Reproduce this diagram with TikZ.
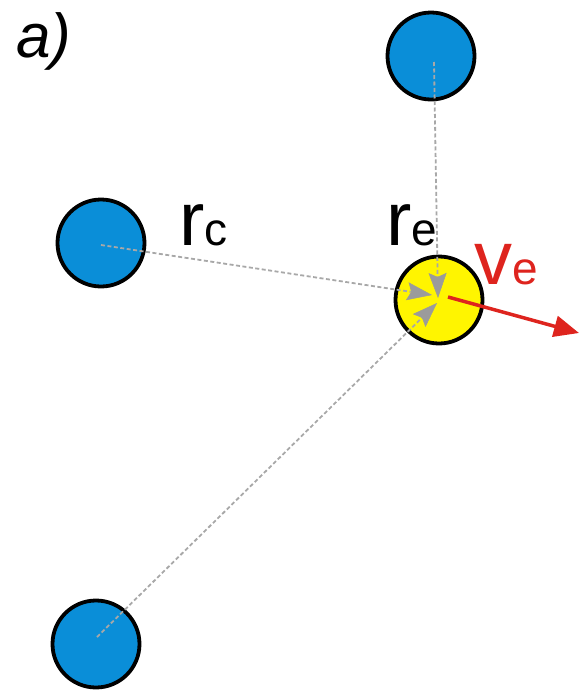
\documentclass[tikz,border=0pt]{standalone}
\usepackage{fontspec}
\setmainfont{Liberation Sans}
\usetikzlibrary{arrows.meta}
\definecolor{ballblue}{RGB}{10,142,216}
\definecolor{ballyellow}{RGB}{255,245,0}
\definecolor{dashgray}{RGB}{168,168,168}
\definecolor{headgray}{RGB}{155,155,155}
\definecolor{velred}{RGB}{222,36,30}
\tikzset{
  ball/.style={circle,draw=black,line width=3.8pt,minimum size=87pt,inner sep=0pt},
  blueball/.style={ball,fill=ballblue},
  yellowball/.style={ball,fill=ballyellow},
  force/.style={draw=dashgray,line width=1.8pt,dash pattern=on 4pt off 2.5pt,
    -{Stealth[length=25pt,width=18pt,inset=4pt,color=headgray,fill=headgray,line width=0.5pt]}},
  vel/.style={draw=velred,line width=3.5pt,-{Triangle[length=25pt,width=21pt]}},
  lbl/.style={inner sep=0pt,anchor=base west},
}
\newcommand{\bigtxt}{\fontsize{76}{76}\selectfont}
\newcommand{\subtxt}{\fontsize{46}{46}\selectfont}
\begin{document}
\begin{tikzpicture}[x=1pt,y=-1pt]
\useasboundingbox (0,0) rectangle (581,691);
\node[blueball] (T) at (431,56) {};
\node[blueball] (L) at (101,243) {};
\node[blueball] (B) at (96,644) {};
\node[yellowball] (E) at (439,300) {};
\coordinate (ts) at (434,62);
\coordinate (ls) at (101,245);
\coordinate (bs) at (97,637);
\coordinate (tt) at (438,298);
\coordinate (lt) at (432,295);
\coordinate (bt) at (437,303);
\coordinate (vs) at (448,297);
\coordinate (vt) at (579,333);
\draw[force] (ts) -- (tt);
\draw[force] (ls) -- (lt);
\draw[force] (bs) -- (bt);
\draw[vel] (vs) -- (vt);
\node[lbl] (a) at (16,57) {\fontsize{62}{62}\selectfont\itshape a)};
\node[lbl] (rc) at (179,245) {\bigtxt r\subtxt c};
\node[lbl] (re) at (386,245) {\bigtxt r\subtxt e};
\node[lbl,text=velred] (ve) at (474,284) {\bigtxt v\subtxt e};
\end{tikzpicture}
\end{document}
